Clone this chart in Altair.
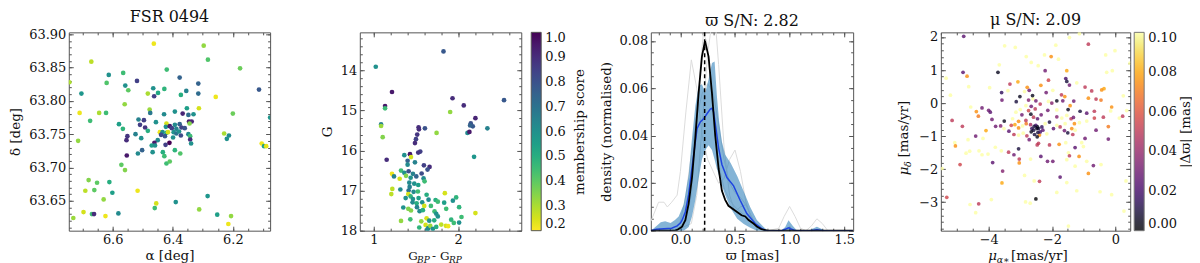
import altair as alt
import pandas as pd

FONT = "DejaVu Serif"
FRAME = "#555555"
TXT = "#111111"

# ---------------- Panel 1: sky positions ----------------
p1_ra = [6.463, 6.297, 6.671, 6.283, 6.176, 6.420, 6.613, 6.565, 6.744, 6.620,
         6.519, 6.377, 6.704, 6.558, 6.548, 6.465, 6.428, 6.483, 6.462, 6.449,
         6.355, 6.373, 6.315, 6.315, 6.257, 6.113, 6.560, 6.710, 6.645, 6.622,
         6.477, 6.475, 6.429, 6.393, 6.367, 6.353, 6.348, 6.331, 6.313, 6.200,
         6.076, 6.675, 6.514, 6.496, 6.509, 6.492, 6.579, 6.566, 6.456, 6.483,
         6.421, 6.423, 6.410, 6.403, 6.393, 6.388, 6.377, 6.371, 6.360, 6.346,
         6.337, 6.344, 6.443, 6.434, 6.421, 6.416, 6.397, 6.388, 6.379, 6.373,
         6.399, 6.426, 6.439, 6.348, 6.342, 6.342, 6.339, 6.524, 6.505, 6.551,
         6.554, 6.450, 6.461, 6.470, 6.459, 6.424, 6.411, 6.229, 6.213, 6.220,
         6.715, 6.104, 6.096, 6.089, 6.502, 6.516, 6.467, 6.433, 6.428, 6.393,
         6.375, 6.553, 6.571, 6.559, 6.421, 6.410, 6.680, 6.652, 6.611, 6.691,
         6.661, 6.601, 6.517, 6.630, 6.455, 6.460, 6.390, 6.284, 6.697, 6.669,
         6.662, 6.624, 6.581, 6.312, 6.252, 6.206, 6.215, 6.731]
p1_dec = [63.886, 63.883, 63.859, 63.862, 63.849, 63.847, 63.839, 63.842, 63.828, 63.827,
          63.830, 63.835, 63.811, 63.823, 63.816, 63.819, 63.818, 63.811, 63.807, 63.812,
          63.815, 63.809, 63.826, 63.811, 63.806, 63.817, 63.795, 63.782, 63.782, 63.782,
          63.787, 63.782, 63.780, 63.784, 63.781, 63.789, 63.779, 63.780, 63.789, 63.781,
          63.775, 63.770, 63.772, 63.771, 63.764, 63.760, 63.765, 63.758, 63.768, 63.755,
          63.766, 63.761, 63.762, 63.759, 63.764, 63.758, 63.765, 63.760, 63.759, 63.769,
          63.769, 63.766, 63.753, 63.753, 63.752, 63.753, 63.753, 63.751, 63.754, 63.748,
          63.745, 63.747, 63.749, 63.750, 63.747, 63.742, 63.736, 63.750, 63.744, 63.747,
          63.741, 63.741, 63.737, 63.733, 63.733, 63.734, 63.737, 63.751, 63.748, 63.743,
          63.740, 63.736, 63.732, 63.732, 63.726, 63.721, 63.723, 63.723, 63.717, 63.726,
          63.721, 63.718, 63.704, 63.696, 63.706, 63.709, 63.681, 63.677, 63.678, 63.665,
          63.666, 63.662, 63.665, 63.652, 63.646, 63.639, 63.648, 63.657, 63.633, 63.630,
          63.630, 63.627, 63.631, 63.637, 63.629, 63.627, 63.615, 63.624]
p1_memb = [0.22, 0.33, 0.28, 0.42, 0.38, 0.45, 0.60, 0.45, 0.30, 0.42,
           0.85, 0.75, 0.58, 0.60, 0.40, 0.60, 0.48, 0.30, 0.85, 0.52,
           0.65, 0.50, 0.75, 0.72, 0.22, 0.78, 0.33, 0.22, 0.30, 0.45,
           0.32, 0.68, 0.62, 0.60, 0.92, 0.55, 0.72, 0.60, 0.25, 0.38,
           0.58, 0.45, 0.65, 0.85, 0.85, 0.88, 0.55, 0.48, 0.60, 0.50,
           0.25, 0.60, 0.95, 0.85, 0.62, 0.65, 0.75, 0.85, 0.80, 0.95,
           0.92, 0.35, 0.22, 0.60, 0.50, 0.25, 0.60, 0.70, 0.60, 0.82,
           0.60, 0.78, 0.82, 0.62, 0.45, 0.90, 0.60, 0.65, 0.60, 0.88,
           0.90, 0.62, 0.95, 0.55, 0.60, 0.85, 1.00, 0.30, 0.62, 0.60,
           0.33, 0.22, 0.55, 0.23, 0.75, 0.62, 0.60, 0.50, 0.45, 0.48,
           0.42, 0.95, 0.40, 0.35, 0.45, 0.40, 0.35, 0.40, 0.50, 0.28,
           0.40, 0.55, 0.22, 0.33, 0.25, 0.45, 0.60, 0.58, 0.25, 0.45,
           0.90, 0.22, 0.62, 0.33, 0.55, 0.33, 0.22, 0.32]

# ---------------- Panel 2: colour-magnitude diagram ----------------
p2_bprp = [1.826, 1.024, 1.216, 1.933, 2.543, 1.134, 1.134, 2.066, 1.905, 2.204,
           2.149, 2.173, 2.141, 1.087, 1.087, 1.531, 1.535, 1.606, 2.346, 2.110,
           2.133, 1.744, 1.106, 1.515, 1.500, 1.488, 1.551, 1.527, 2.188, 1.362,
           1.429, 1.441, 1.153, 1.401, 1.488, 1.401, 1.594, 1.661, 1.637, 1.323,
           1.362, 1.413, 1.464, 1.567, 1.216, 1.240, 1.382, 1.437, 1.504, 1.590,
           1.307, 1.602, 1.421, 1.480, 1.527, 1.425, 1.220, 1.315, 1.413, 1.472,
           1.523, 1.208, 1.409, 1.437, 1.626, 1.842, 1.378, 1.464, 1.531, 1.649,
           1.732, 1.976, 1.937, 1.460, 1.508, 1.574, 1.759, 1.834, 1.350, 1.409,
           1.512, 1.598, 1.677, 1.858, 2.011, 1.441, 1.543, 1.582, 1.720, 1.740,
           1.759, 2.204, 2.039, 1.323, 1.433, 1.563, 1.626, 1.657, 1.716, 1.917,
           1.799, 1.854, 1.881, 1.948, 2.011, 1.539, 1.614, 1.645, 1.669, 1.700,
           1.634, 1.740]
p2_gmag = [13.525, 13.909, 14.538, 14.694, 14.743, 14.890, 14.947, 14.873, 15.037, 15.192,
           15.323, 15.396, 15.372, 15.347, 15.388, 15.421, 15.470, 15.445, 15.445, 15.560,
           15.535, 15.560, 15.666, 15.601, 15.715, 15.813, 16.025, 16.050, 16.156, 16.115,
           16.091, 16.164, 16.230, 16.254, 16.295, 16.352, 16.368, 16.409, 16.475, 16.499,
           16.556, 16.516, 16.581, 16.573, 16.581, 16.646, 16.630, 16.679, 16.646, 16.695,
           16.703, 16.769, 16.802, 16.826, 16.859, 16.908, 16.957, 16.973, 16.998, 17.030,
           17.022, 17.087, 17.087, 17.145, 17.104, 17.063, 17.186, 17.210, 17.186, 17.226,
           17.235, 17.169, 17.251, 17.292, 17.316, 17.292, 17.275, 17.300, 17.422, 17.455,
           17.414, 17.382, 17.382, 17.455, 17.414, 17.496, 17.512, 17.488, 17.520, 17.578,
           17.643, 17.561, 17.659, 17.757, 17.717, 17.766, 17.692, 17.749, 17.741, 17.725,
           17.847, 17.880, 17.888, 17.806, 17.798, 17.921, 17.856, 17.937, 17.880, 17.953,
           17.970, 17.905]
p2_memb = [0.78, 0.60, 0.95, 0.90, 0.78, 0.95, 0.45, 0.90, 0.33, 0.92,
           0.80, 0.78, 0.75, 0.65, 0.32, 0.90, 0.90, 0.80, 0.65, 0.62,
           0.95, 0.33, 0.35, 0.88, 0.85, 0.90, 0.85, 0.88, 0.58, 0.60,
           0.95, 0.25, 0.90, 0.75, 0.65, 0.62, 0.85, 0.90, 0.80, 0.45,
           0.60, 0.80, 0.65, 0.82, 0.22, 0.65, 0.35, 0.60, 0.75, 0.62,
           0.25, 0.45, 0.62, 0.60, 0.55, 0.65, 0.28, 0.62, 0.70, 0.62,
           0.45, 0.28, 0.25, 0.48, 0.50, 0.25, 0.60, 0.60, 0.55, 0.62,
           0.50, 0.48, 0.60, 0.62, 0.50, 0.60, 0.45, 0.55, 0.60, 0.35,
           0.65, 0.25, 0.45, 0.45, 0.48, 0.35, 0.62, 0.50, 0.45, 0.60,
           0.60, 0.25, 0.45, 0.33, 0.45, 0.33, 0.25, 0.60, 0.50, 0.48,
           0.28, 0.25, 0.22, 0.45, 0.60, 0.48, 0.25, 0.60, 0.32, 0.60,
           0.62, 0.50]

# ---------------- Panel 3: parallax densities ----------------
band_x = [-0.27, -0.23, -0.18, -0.14, -0.09, -0.05, -0.016, 0.03, 0.076, 0.106,
          0.137, 0.167, 0.197, 0.228, 0.258, 0.289, 0.313, 0.334, 0.355, 0.38,
          0.41, 0.46, 0.52, 0.58, 0.64, 0.70, 0.76, 0.80, 0.92, 0.96,
          0.99, 1.03, 1.07, 1.17, 1.21, 1.25, 1.29, 1.33, 1.58]
band_hi = [0.0, 0.0015, 0.0036, 0.0040, 0.0032, 0.0045, 0.0060, 0.0110, 0.0237, 0.0389,
           0.0527, 0.0610, 0.0617, 0.0582, 0.0638, 0.0707, 0.0713, 0.0569, 0.0458, 0.0375,
           0.0320, 0.0285, 0.0230, 0.0165, 0.0099, 0.0045, 0.0017, 0.0, 0.0, 0.0015,
           0.0044, 0.0020, 0.0, 0.0, 0.0008, 0.0017, 0.0008, 0.0, 0.0]
band_lo = [0.0, 0.0, 0.0, 0.0, 0.0, 0.0, 0.0, 0.0, 0.0015, 0.0060,
           0.0130, 0.0220, 0.0300, 0.0340, 0.0360, 0.0340, 0.0300, 0.0260, 0.0230, 0.0190,
           0.0150, 0.0095, 0.0050, 0.0028, 0.0012, 0.0, 0.0, 0.0, 0.0, 0.0,
           0.0, 0.0, 0.0, 0.0, 0.0, 0.0, 0.0, 0.0, 0.0]
mean_x = [-0.27, -0.22, -0.15, -0.08, -0.03, 0.0, 0.015, 0.045, 0.076, 0.106,
          0.137, 0.152, 0.182, 0.213, 0.243, 0.274, 0.289, 0.304, 0.325, 0.35,
          0.38, 0.426, 0.487, 0.548, 0.608, 0.685, 0.743, 0.78, 0.93, 0.99,
          1.05, 1.20, 1.25, 1.30, 1.58]
mean_y = [0.0, 0.0006, 0.0008, 0.0010, 0.0020, 0.0032, 0.0044, 0.0079, 0.0154, 0.0265,
          0.0375, 0.0430, 0.0458, 0.0472, 0.0493, 0.0513, 0.0516, 0.0500, 0.0431, 0.0348,
          0.0279, 0.0224, 0.0189, 0.0127, 0.0072, 0.0030, 0.0010, 0.0, 0.0, 0.0012,
          0.0, 0.0, 0.0004, 0.0, 0.0]
clus_x = [-0.27, -0.05, -0.03, 0.015, 0.045, 0.075, 0.106, 0.136, 0.167, 0.197,
          0.225, 0.258, 0.289, 0.319, 0.35, 0.38, 0.41, 0.44, 0.50, 0.56,
          0.594, 0.624, 0.669, 0.70, 0.746, 0.80, 1.58]
clus_y = [0.0, 0.0, 0.0003, 0.0017, 0.0044, 0.0113, 0.0224, 0.0389, 0.0582, 0.0734,
          0.0800, 0.0734, 0.0580, 0.0400, 0.0260, 0.0168, 0.0130, 0.0105, 0.0085, 0.0065,
          0.0060, 0.0045, 0.0030, 0.0018, 0.0005, 0.0, 0.0]
gray_a_x = [-0.05, 0.10, 0.15, 0.20, 0.25, 0.29, 0.32, 0.35, 0.40, 0.45, 0.50, 0.55, 0.60, 0.65, 0.70, 0.75]
gray_a_y = [0.0, 0.003, 0.015, 0.045, 0.075, 0.088, 0.088, 0.070, 0.035, 0.015, 0.008, 0.010, 0.011, 0.006, 0.001, 0.0]
gray_b_x = [-0.27, -0.20, -0.15, -0.12, -0.08, -0.03, 0.0, 0.05, 0.10, 0.15, 0.20, 0.25, 0.30, 0.35, 0.40, 0.45,
            0.50, 0.55, 0.60, 0.65, 0.70, 0.80, 0.90, 0.95, 1.00, 1.05, 1.10, 1.15, 1.20, 1.25, 1.30, 1.35, 1.58]
gray_b_y = [0.004, 0.012, 0.012, 0.010, 0.012, 0.015, 0.025, 0.050, 0.072, 0.060, 0.040, 0.030, 0.025, 0.020, 0.022, 0.030,
            0.034, 0.025, 0.012, 0.005, 0.001, 0.0, 0.001, 0.006, 0.0102, 0.006, 0.001, 0.0, 0.002, 0.005, 0.003, 0.0, 0.0]
gray_c_x = [-0.05, 0.05, 0.10, 0.15, 0.18, 0.21, 0.24, 0.28, 0.32, 0.36, 0.40, 0.45, 0.50, 0.55, 0.60, 0.65, 0.70, 0.75]
gray_c_y = [0.0, 0.004, 0.015, 0.045, 0.068, 0.083, 0.080, 0.060, 0.040, 0.026, 0.018, 0.013, 0.010, 0.008, 0.006, 0.004, 0.002, 0.0]
gray_d_x = [-0.05, 0.0, 0.05, 0.10, 0.15, 0.20, 0.25, 0.30, 0.35, 0.40, 0.45, 0.50, 0.55, 0.60, 0.65, 0.70, 0.75]
gray_d_y = [0.0, 0.004, 0.015, 0.032, 0.048, 0.058, 0.062, 0.058, 0.045, 0.030, 0.020, 0.016, 0.014, 0.011, 0.006, 0.002, 0.0]
plx_mode = [0.222]

# ---------------- Panel 4: proper motions ----------------
pm_ra = [-4.788, -3.496, -3.160, -2.814, -2.656, -3.664, -4.809, -4.683, -3.706, -5.344,
         -4.630, -3.969, -3.328, -3.076, -2.782, -3.591, -3.391, -2.866, -2.719, -2.614,
         -5.208, -3.580, -3.129, -3.013, -2.740, -2.604, -2.509, -4.567, -4.210, -4.389,
         -4.000, -3.948, -4.326, -2.824, -2.656, -2.530, -3.003, -3.139, -2.740, -2.950,
         -2.667, -2.583, -2.457, -5.155, -4.830, -3.895, -3.507, -3.244, -3.055, -2.824,
         -3.780, -3.622, -3.517, -3.360, -3.286, -3.171, -3.055, -2.929, -2.814, -2.677,
         -2.562, -2.478, -4.084, -4.410, -3.202, -3.055, -2.908, -2.793, -2.656, -2.551,
         -2.467, -5.050, -4.651, -2.719, -2.467, -3.790, -3.370, -3.055, -4.714, -4.599,
         -4.305, -4.210, -4.021, -3.601, -3.202, -3.034, -3.034, -4.903, -3.874, -2.677,
         -5.470, -3.559, -2.866, -3.580, -2.562, -5.323, -4.588, -4.315, -3.916, -4.410,
         -2.835, -2.688, -2.509, -5.071, -4.179, -2.583, -2.509, -2.635, -2.446,
         -1.449, -0.851, -1.134, -1.880, -0.305, -0.011, -2.237, -2.027, -1.796, 0.462,
         -2.436, -2.216, -1.533, -0.273, -0.095, -2.111, -1.565, -1.533, -2.352, -1.449,
         -1.974, -2.184, -1.218, -0.956, -0.746, -0.431, -0.357, -1.701, -1.596, -1.848,
         -1.659, -1.313, -0.851, -0.609, -0.452, 0.252, -2.373, -2.111, -2.006, -2.132,
         -1.848, -1.491, -1.428, -1.113, -0.903, -0.662, -0.116, -0.147, 0.357, -2.342,
         -1.848, -1.691, -1.533, -1.397, -1.323, -0.662, -0.378, 0.126, 0.231, -2.216,
         -2.079, -1.848, -1.586, -1.292, -1.134, -0.903, -0.609, -0.221, -1.953, -1.743,
         -1.607, -1.502, -1.376, -1.271, -2.426, -2.289, -2.163, -2.394, -1.344, -0.956,
         -0.221, -2.426, -2.079, -1.775, -1.565, -1.271, -1.061, -1.008, -2.352, -2.142,
         -1.974, -1.449, -1.481, -1.145, -1.533, -0.693, -0.851, -0.903, -0.452, -1.743,
         -2.394, -1.533, -1.271, 0.336, -1.848, -1.218, -0.483, -0.116, -1.481, 0.273,
         -2.457, -2.373, -2.320]
pm_dec = [2.021, 1.734, 1.684, 1.407, 1.229, 1.159, 0.932, 0.813, 0.932, 0.753,
          0.496, 0.466, 0.575, 0.645, 0.476, 0.318, 0.377, 0.348, 0.387, 0.229,
          0.239, 0.090, 0.041, 0.199, 0.090, 0.130, 0.070, -0.118, -0.148, -0.256,
          -0.217, -0.276, -0.395, -0.078, -0.098, -0.177, -0.197, -0.276, -0.227, -0.355,
          -0.336, -0.425, -0.474, -0.524, -0.702, -0.494, -0.544, -0.474, -0.553, -0.524,
          -0.702, -0.692, -0.771, -0.850, -0.672, -0.652, -0.751, -0.692, -0.623, -0.652,
          -0.702, -0.771, -0.831, -0.999, -0.950, -0.969, -0.910, -0.989, -0.870, -0.950,
          -1.019, -1.296, -1.108, -1.108, -1.266, -1.336, -1.484, -1.385, -1.514, -1.454,
          -1.445, -1.563, -1.543, -1.445, -1.563, -1.692, -1.811, -1.860, -1.801, -1.692,
          -1.979, -2.058, -2.187, -2.415, -2.355, -2.851, -3.068, -3.049, -2.920, -3.316,
          -2.989, -3.029, -2.900, -1.197, -1.068, -0.821, -0.672, -0.771, -0.890,
          1.981, 1.783, 2.100, 1.753, 1.456, 1.585, 1.456, 1.407, 1.328, 1.209,
          1.130, 0.981, 0.981, 0.932, 0.981, 0.694, 0.744, 0.654, 0.536, 0.546,
          0.387, 0.318, 0.615, 0.486, 0.367, 0.397, 0.437, 0.249, 0.199, 0.070,
          0.070, 0.060, 0.149, 0.120, 0.090, 0.219, -0.029, 0.050, 0.001, -0.217,
          -0.207, -0.197, -0.078, -0.247, -0.306, -0.247, -0.118, -0.237, -0.227, -0.355,
          -0.415, -0.454, -0.375, -0.474, -0.435, -0.454, -0.425, -0.454, -0.395, -0.623,
          -0.573, -0.672, -0.623, -0.623, -0.593, -0.544, -0.821, -0.712, -0.771, -0.722,
          -0.831, -0.900, -0.771, -0.821, -0.771, -0.821, -0.930, -0.969, -0.950, -1.068,
          -1.088, -1.217, -1.266, -1.247, -1.197, -1.346, -1.197, -1.316, -1.613, -1.761,
          -1.761, -1.593, -1.504, -1.613, -1.712, -1.890, -2.128, -1.761, -1.860, -2.237,
          -2.365, -2.405, -1.910, -2.355, -2.702, -2.652, -2.682, -2.771, -3.722, -3.266,
          -0.722, -0.871, -0.722]
pm_dplx = [0.025, 0.10, 0.10, 0.10, 0.10, 0.10, 0.025, 0.075, 0.005, 0.10,
           0.10, 0.10, 0.05, 0.08, 0.075, 0.015, 0.10, 0.10, 0.03, 0.005,
           0.10, 0.03, 0.01, 0.005, 0.035, 0.10, 0.03, 0.10, 0.03, 0.075,
           0.03, 0.025, 0.07, 0.10, 0.03, 0.05, 0.10, 0.10, 0.055, 0.03,
           0.005, 0.05, 0.025, 0.05, 0.05, 0.03, 0.005, 0.10, 0.075, 0.05,
           0.03, 0.035, 0.10, 0.025, 0.055, 0.08, 0.075, 0.10, 0.07, 0.045,
           0.01, 0.005, 0.08, 0.03, 0.05, 0.10, 0.10, 0.05, 0.005, 0.01,
           0.005, 0.075, 0.10, 0.03, 0.05, 0.10, 0.05, 0.01, 0.10, 0.10,
           0.10, 0.10, 0.10, 0.10, 0.03, 0.05, 0.075, 0.055, 0.025, 0.10,
           0.10, 0.035, 0.10, 0.08, 0.10, 0.055, 0.10, 0.05, 0.10, 0.10,
           0.10, 0.10, 0.0, 0.10, 0.10, 0.01, 0.02, 0.015, 0.01,
           0.10, 0.05, 0.10, 0.10, 0.10, 0.10, 0.10, 0.075, 0.10, 0.10,
           0.10, 0.03, 0.08, 0.10, 0.10, 0.055, 0.02, 0.01, 0.075, 0.03,
           0.10, 0.03, 0.10, 0.05, 0.05, 0.075, 0.08, 0.05, 0.075, 0.005,
           0.03, 0.03, 0.075, 0.05, 0.07, 0.10, 0.05, 0.10, 0.035, 0.03,
           0.10, 0.005, 0.075, 0.01, 0.025, 0.05, 0.075, 0.10, 0.10, 0.03,
           0.035, 0.10, 0.10, 0.05, 0.03, 0.055, 0.05, 0.10, 0.05, 0.10,
           0.01, 0.10, 0.10, 0.075, 0.10, 0.10, 0.03, 0.07, 0.025, 0.05,
           0.03, 0.01, 0.075, 0.10, 0.01, 0.025, 0.10, 0.075, 0.05, 0.03,
           0.03, 0.05, 0.05, 0.075, 0.10, 0.025, 0.10, 0.10, 0.025, 0.03,
           0.03, 0.05, 0.10, 0.075, 0.10, 0.03, 0.075, 0.10, 0.10, 0.025,
           0.05, 0.10, 0.10, 0.10, 0.10, 0.10, 0.10, 0.10, 0.10, 0.10,
           0.005, 0.02, 0.015]

# ---------------- axis domains and tick lists ----------------
p1_xdom = [6.076, 6.746]
p1_ydom = [63.605, 63.903]
p1_xmaj = [6.2, 6.4, 6.6]
p1_xmin = [6.10, 6.15, 6.20, 6.25, 6.30, 6.35, 6.40, 6.45, 6.50, 6.55, 6.60, 6.65, 6.70]
p1_ymaj = [63.65, 63.70, 63.75, 63.80, 63.85, 63.90]
p1_ymin = [63.61, 63.62, 63.63, 63.64, 63.65, 63.66, 63.67, 63.68, 63.69, 63.70,
           63.71, 63.72, 63.73, 63.74, 63.75, 63.76, 63.77, 63.78, 63.79, 63.80,
           63.81, 63.82, 63.83, 63.84, 63.85, 63.86, 63.87, 63.88, 63.89, 63.90]

p2_xdom = [0.835, 2.747]
p2_ydom = [13.05, 18.0]
p2_xmaj = [1, 2]
p2_xmin = [1.0, 1.2, 1.4, 1.6, 1.8, 2.0, 2.2, 2.4, 2.6]
p2_ymaj = [14, 15, 16, 17, 18]
p2_ymin = [13.2, 13.4, 13.6, 13.8, 14.0, 14.2, 14.4, 14.6, 14.8, 15.0, 15.2, 15.4, 15.6, 15.8,
           16.0, 16.2, 16.4, 16.6, 16.8, 17.0, 17.2, 17.4, 17.6, 17.8, 18.0]
memb_ticks = [0.2, 0.3, 0.4, 0.5, 0.6, 0.7, 0.8, 0.9, 1.0]

p3_xdom = [-0.271, 1.582]
p3_ydom = [0.0, 0.0836]
p3_xmaj = [0.0, 0.5, 1.0, 1.5]
p3_xmin = [-0.2, -0.1, 0.0, 0.1, 0.2, 0.3, 0.4, 0.5, 0.6, 0.7, 0.8, 0.9, 1.0, 1.1, 1.2, 1.3, 1.4, 1.5]
p3_ymaj = [0.0, 0.02, 0.04, 0.06, 0.08]
p3_ymin = [0.0, 0.005, 0.01, 0.015, 0.02, 0.025, 0.03, 0.035, 0.04, 0.045, 0.05, 0.055,
           0.06, 0.065, 0.07, 0.075, 0.08]

p4_xdom = [-5.51, 0.47]
p4_ydom = [-3.86, 2.14]
p4_xmaj = [-4, -2, 0]
p4_xmin = [-5.5, -5.0, -4.5, -4.0, -3.5, -3.0, -2.5, -2.0, -1.5, -1.0, -0.5, 0.0]
p4_ymaj = [-3, -2, -1, 0, 1, 2]
p4_ymin = [-3.8, -3.6, -3.4, -3.2, -3.0, -2.8, -2.6, -2.4, -2.2, -2.0, -1.8, -1.6, -1.4, -1.2,
           -1.0, -0.8, -0.6, -0.4, -0.2, 0.0, 0.2, 0.4, 0.6, 0.8, 1.0, 1.2, 1.4, 1.6, 1.8, 2.0]
dplx_ticks = [0.0, 0.02, 0.04, 0.06, 0.08, 0.10]

MAJ = 4.5
MIN = 2.5
H = 199


def main_axis(orient, vals, fmt, title, tpad):
    kw = dict(orient=orient, values=vals, format=fmt,
              tickSize=MAJ, offset=-MAJ, domain=False, grid=False,
              labelPadding=3, labelFlush=False, labelOverlap=False,
              tickColor=FRAME, titlePadding=tpad)
    kw["title"] = title if title else None
    return alt.Axis(**kw)


def tick_layers(W, xsc, ysc, xmaj, xmin, ymaj, ymin, rtitle="", rtitle_x=0):
    """Inward ticks on the top/right (major+minor) and bottom/left (minor) edges.
    Only bottom/left axes are used; a negative offset moves them onto the far edge."""
    df = pd.DataFrame({"tx": [xmaj[0]], "ty": [ymaj[0]]})
    out = []
    specs = [(xmaj, ymaj, MAJ, -H, -W),      # top + right major
             (xmin, ymin, MIN, -MIN, -MIN),  # bottom + left minor
             (xmin, ymin, MIN, -H, -W)]      # top + right minor
    for i, (xv, yv, sz, xoff, yoff) in enumerate(specs):
        yax = dict(orient="left", values=yv, tickSize=sz, offset=yoff, labels=False,
                   domain=False, grid=False, title=None, tickColor=FRAME)
        if i == 0 and rtitle:
            yax.update(title=rtitle, titleAngle=270, titleX=rtitle_x, titleY=H / 2,
                       titleAlign="center", titleBaseline="middle")
        out.append(
            alt.Chart(df).mark_point(opacity=0).encode(
                x=alt.X("tx:Q", scale=xsc,
                        axis=alt.Axis(orient="bottom", values=xv, tickSize=sz, offset=xoff,
                                      labels=False, domain=False, grid=False,
                                      title=None, tickColor=FRAME)),
                y=alt.Y("ty:Q", scale=ysc, axis=alt.Axis(**yax)),
            )
        )
    return out


def title_piece(xsc, ysc, text, orient, tx, ty, size, italic=False):
    """An axis used only to carry one piece of a (sub/normal script) axis title."""
    df = pd.DataFrame({"tx": [xsc.domain[0]], "ty": [ysc.domain[0]]})
    ax = alt.Axis(orient=orient, ticks=False, labels=False, domain=False, grid=False,
                  title=text, titleX=tx, titleY=ty, titleAlign="left",
                  titleBaseline="alphabetic", titleFontSize=size,
                  titleAngle=0 if orient == "bottom" else 270,
                  titleFontStyle="italic" if italic else "normal")
    if orient == "bottom":
        enc = dict(x=alt.X("tx:Q", scale=xsc, axis=ax), y=alt.Y("ty:Q", scale=ysc, axis=None))
    else:
        enc = dict(x=alt.X("tx:Q", scale=xsc, axis=None), y=alt.Y("ty:Q", scale=ysc, axis=ax))
    return alt.Chart(df).mark_point(opacity=0).encode(**enc)


def cbar(x, vals, fmt):
    return alt.Legend(orient="none", legendX=x, legendY=0, direction="vertical",
                      gradientLength=H, gradientThickness=10, values=vals, format=fmt,
                      title=None, labelBaseline="middle", labelOffset=4, labelOverlap=False)


# ---------- Panel 1 ----------
W1, W2, W3, W4 = 202, 162, 203, 190
df1 = pd.DataFrame({"ra": p1_ra, "dec": p1_dec, "memb": p1_memb})
x1 = alt.Scale(domain=p1_xdom, reverse=True, zero=False, nice=False)
y1 = alt.Scale(domain=p1_ydom, zero=False, nice=False)
memb_scale = alt.Scale(scheme="viridis", reverse=True, domain=[0.2, 1.0], clamp=True)
sc1 = alt.Chart(df1).mark_circle(size=22, opacity=1, clip=True).encode(
    x=alt.X("ra:Q", scale=x1, axis=main_axis("bottom", p1_xmaj, ".1f", "α [deg]", 2)),
    y=alt.Y("dec:Q", scale=y1, axis=main_axis("left", p1_ymaj, ".2f", "δ [deg]", 6)),
    color=alt.Color("memb:Q", scale=memb_scale, legend=None),
)
panel1 = alt.layer(sc1, *tick_layers(W1, x1, y1, p1_xmaj, p1_xmin, p1_ymaj, p1_ymin)).resolve_axis(
    x="independent", y="independent").properties(width=W1, height=H, title="FSR 0494")

# ---------- Panel 2 ----------
df2 = pd.DataFrame({"bprp": p2_bprp, "g": p2_gmag, "memb2": p2_memb})
x2 = alt.Scale(domain=p2_xdom, zero=False, nice=False)
y2 = alt.Scale(domain=p2_ydom, reverse=True, zero=False, nice=False)
sc2 = alt.Chart(df2).mark_circle(size=22, opacity=1, clip=True).encode(
    x=alt.X("bprp:Q", scale=x2, axis=main_axis("bottom", p2_xmaj, "d", "", 3)),
    y=alt.Y("g:Q", scale=y2, axis=main_axis("left", p2_ymaj, "d", "G", 6)),
    color=alt.Color("memb2:Q", scale=memb_scale, legend=cbar(172, memb_ticks, ".1f")),
)
p2_title = [
    title_piece(x2, y2, "G", "bottom", 48, 29, 12),
    title_piece(x2, y2, "BP", "bottom", 57, 31.5, 9, True),
    title_piece(x2, y2, "- G", "bottom", 72, 29, 12),
    title_piece(x2, y2, "RP", "bottom", 89, 31.5, 9, True),
]
panel2 = alt.layer(sc2, *tick_layers(W2, x2, y2, p2_xmaj, p2_xmin, p2_ymaj, p2_ymin,
                                     "membership score", 58), *p2_title).resolve_axis(
    x="independent", y="independent").properties(width=W2, height=H)

# ---------- Panel 3 ----------
x3 = alt.Scale(domain=p3_xdom, zero=False, nice=False)
y3 = alt.Scale(domain=p3_ydom, zero=False, nice=False)
gray_df = pd.concat([
    pd.DataFrame({"plx": gray_a_x, "dens": gray_a_y, "s": "a"}),
    pd.DataFrame({"plx": gray_b_x, "dens": gray_b_y, "s": "b"}),
    pd.DataFrame({"plx": gray_c_x, "dens": gray_c_y, "s": "c"}),
    pd.DataFrame({"plx": gray_d_x, "dens": gray_d_y, "s": "d"}),
])
band_df = pd.DataFrame({"plx": band_x, "hi": band_hi, "lo": band_lo})
mean_df = pd.DataFrame({"plx": mean_x, "dens": mean_y})
clus_df = pd.DataFrame({"plx": clus_x, "dens": clus_y})
mode_df = pd.DataFrame({"plx": plx_mode})

gray = alt.Chart(gray_df).mark_line(color="#dcdcdc", strokeWidth=1, clip=True).encode(
    x=alt.X("plx:Q", scale=x3, axis=main_axis("bottom", p3_xmaj, ".1f", "ϖ [mas]", 2)),
    y=alt.Y("dens:Q", scale=y3, axis=main_axis("left", p3_ymaj, ".2f", "density (normalised)", 6)),
    detail="s:N",
)
band = alt.Chart(band_df).mark_area(color="#1f77b4", opacity=0.55, clip=True).encode(
    x=alt.X("plx:Q", scale=x3, axis=None), y=alt.Y("hi:Q", scale=y3, axis=None), y2="lo:Q")
mean_line = alt.Chart(mean_df).mark_line(color="#1f45e0", strokeWidth=1.5, clip=True).encode(
    x=alt.X("plx:Q", scale=x3, axis=None), y=alt.Y("dens:Q", scale=y3, axis=None))
clus_line = alt.Chart(clus_df).mark_line(color="#000000", strokeWidth=1.8, clip=True).encode(
    x=alt.X("plx:Q", scale=x3, axis=None), y=alt.Y("dens:Q", scale=y3, axis=None))
mode_rule = alt.Chart(mode_df).mark_rule(color="#000000", strokeWidth=1.5, strokeDash=[4, 3]).encode(
    x=alt.X("plx:Q", scale=x3, axis=None))
panel3 = alt.layer(gray, band, mean_line, clus_line, mode_rule,
                   *tick_layers(W3, x3, y3, p3_xmaj, p3_xmin, p3_ymaj, p3_ymin)).resolve_axis(
    x="independent", y="independent").properties(width=W3, height=H, title="ϖ S/N: 2.82")

# ---------- Panel 4 ----------
df4 = pd.DataFrame({"pmra": pm_ra, "pmdec": pm_dec, "dplx": pm_dplx}).sort_values(
    "dplx", ascending=False)
x4 = alt.Scale(domain=p4_xdom, zero=False, nice=False)
y4 = alt.Scale(domain=p4_ydom, zero=False, nice=False)
sc4 = alt.Chart(df4).mark_circle(size=14, opacity=0.8, clip=True).encode(
    x=alt.X("pmra:Q", scale=x4, axis=main_axis("bottom", p4_xmaj, "d", "", 3)),
    y=alt.Y("pmdec:Q", scale=y4, axis=main_axis("left", p4_ymaj, "d", "", 6)),
    color=alt.Color("dplx:Q", scale=alt.Scale(scheme="inferno", domain=[0.0, 0.1], clamp=True),
                    legend=cbar(194, dplx_ticks, ".2f")),
)
p4_title = [
    title_piece(x4, y4, "μ", "bottom", 47, 29, 13.5, True),
    title_piece(x4, y4, "α∗", "bottom", 55.5, 31.5, 9.5, True),
    title_piece(x4, y4, "[mas/yr]", "bottom", 70, 29, 13.5),
    title_piece(x4, y4, "μ", "left", -33, 143, 13.5, True),
    title_piece(x4, y4, "δ", "left", -30.5, 134.5, 9.5, True),
    title_piece(x4, y4, "[mas/yr]", "left", -33, 125, 13.5),
]
panel4 = alt.layer(sc4, *tick_layers(W4, x4, y4, p4_xmaj, p4_xmin, p4_ymaj, p4_ymin,
                                     "|Δϖ| [mas]", 55), *p4_title).resolve_axis(
    x="independent", y="independent").properties(width=W4, height=H, title="μ S/N: 2.09")


def filler(w):
    return alt.Chart(pd.DataFrame({"f": [0]})).mark_point(opacity=0).encode(
        x=alt.X("f:Q", axis=None), y=alt.Y("f:Q", axis=None)
    ).properties(width=w, height=H, view=alt.ViewBackground(strokeOpacity=0))


chart = alt.hconcat(
    panel1, filler(90), panel2, filler(130), panel3, filler(88), panel4,
    spacing=0, bounds="flush",
).resolve_scale(color="independent").resolve_legend(color="independent").properties(
    padding={"left": 0, "top": 0, "right": 0, "bottom": 0}
).configure(font=FONT).configure_axis(
    labelFont=FONT, titleFont=FONT, labelFontSize=13, titleFontSize=13.5,
    labelColor=TXT, titleColor=TXT, titleFontWeight="normal", tickColor=FRAME,
).configure_legend(
    labelFont=FONT, titleFont=FONT, labelFontSize=13, titleFontSize=13.5,
    labelColor=TXT, titleColor=TXT, titleFontWeight="normal",
    gradientStrokeColor=FRAME, gradientStrokeWidth=1,
).configure_title(
    font=FONT, fontSize=16, fontWeight="normal", color=TXT, offset=3, baseline="alphabetic",
).configure_view(stroke=FRAME, strokeWidth=1)

chart.save("out.html", embed_options={"renderer": "svg", "actions": False})
